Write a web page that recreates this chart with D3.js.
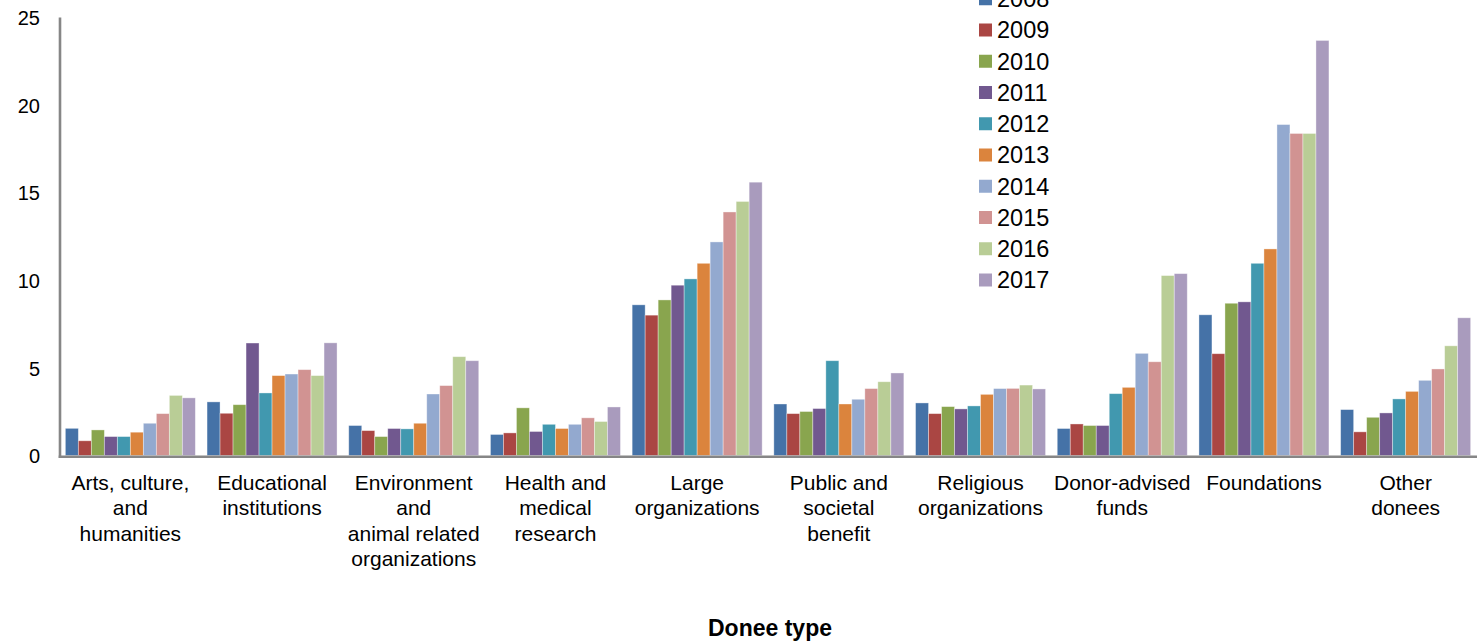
<!DOCTYPE html>
<html>
<head>
<meta charset="utf-8">
<script src="https://cdn.jsdelivr.net/npm/d3@7"></script>
<style>
  body { margin: 0; background: #fff; }
  text { font-family: "Liberation Sans", Arial, sans-serif; fill: #000; }
</style>
</head>
<body>
<div id="chart"></div>
<script>

// Data
////////////////////////////////////////
var categories = [
    ["Arts, culture,", "and", "humanities"],
    ["Educational", "institutions"],
    ["Environment", "and", "animal related", "organizations"],
    ["Health and", "medical", "research"],
    ["Large", "organizations"],
    ["Public and", "societal", "benefit"],
    ["Religious", "organizations"],
    ["Donor-advised", "funds"],
    ["Foundations"],
    ["Other", "donees"]
];

var years = ["2008", "2009", "2010", "2011", "2012", "2013", "2014", "2015", "2016", "2017"];

var colors = ["#4572A7", "#AA4643", "#89A54E", "#71588F", "#4198AF",
              "#DB843D", "#93A9CF", "#D19392", "#B9CD96", "#A99BBD"];

// one array per year, in the order of the categories
var v2008 = [1.55, 3.06, 1.71, 1.20, 8.60, 2.94, 3.00, 1.54, 8.03, 2.62];
var v2009 = [0.84, 2.41, 1.42, 1.29, 8.01, 2.39, 2.39, 1.80, 5.81, 1.35];
var v2010 = [1.46, 2.90, 1.08, 2.72, 8.88, 2.51, 2.79, 1.71, 8.69, 2.18];
var v2011 = [1.08, 6.42, 1.54, 1.37, 9.72, 2.68, 2.66, 1.71, 8.77, 2.43];
var v2012 = [1.08, 3.57, 1.52, 1.78, 10.08, 5.41, 2.83, 3.53, 10.97, 3.23];
var v2013 = [1.33, 4.56, 1.84, 1.54, 10.97, 2.94, 3.49, 3.89, 11.79, 3.66];
var v2014 = [1.84, 4.65, 3.51, 1.78, 12.19, 3.21, 3.82, 5.83, 18.89, 4.29];
var v2015 = [2.39, 4.90, 3.99, 2.15, 13.90, 3.82, 3.83, 5.35, 18.38, 4.94];
var v2016 = [3.43, 4.56, 5.64, 1.94, 14.50, 4.21, 4.02, 10.27, 18.38, 6.26];
var v2017 = [3.29, 6.43, 5.41, 2.77, 15.60, 4.71, 3.80, 10.38, 23.69, 7.86];

var yTicks = [0, 5, 10, 15, 20, 25];
var xTitle = "Donee type";

// Build a flat table for the bars
var series = [v2008, v2009, v2010, v2011, v2012, v2013, v2014, v2015, v2016, v2017];
var table = [];
categories.forEach(function(c, ci) {
    years.forEach(function(y, yi) {
        table.push({ cat: ci, year: y, value: series[yi][ci] });
    });
});

// SVG area
////////////////////////////////////////
var svgWidth = 1484;
var svgHeight = 641;

var svg = d3.select("#chart")
    .append("svg")
    .attr("width", svgWidth)
    .attr("height", svgHeight);

// Scales
var x0 = d3.scaleBand()
    .domain(d3.range(categories.length))
    .range([59.5, 1476.5])
    .padding(0);

var x1 = d3.scaleBand()
    .domain(years)
    .range([0, x0.bandwidth()])
    .paddingInner(0)
    .paddingOuter(0.45);

var yScale = d3.scaleLinear()
    .domain([0, 25])
    .range([455.5, 17.5]);

var colorScale = d3.scaleOrdinal()
    .domain(years)
    .range(colors);

// Bars
svg.append("g")
    .selectAll("rect")
    .data(table)
    .enter()
    .append("rect")
    .attr("x", d => x0(d.cat) + x1(d.year))
    .attr("y", d => yScale(d.value))
    .attr("width", x1.bandwidth())
    .attr("height", d => yScale(0) - yScale(d.value))
    .attr("fill", d => colorScale(d.year))
    .attr("stroke", "#fff")
    .attr("stroke-opacity", 0.45)
    .attr("stroke-width", 0.8);

// Y axis: line plus labels, no tick marks
var leftAxis = d3.axisLeft(yScale).tickValues(yTicks).tickSize(0).tickPadding(20);
var yAxisG = svg.append("g")
    .attr("transform", "translate(60,0)")
    .call(leftAxis);
yAxisG.select(".domain").remove();
yAxisG.selectAll("text")
    .attr("font-size", 20)
    .attr("font-family", null)
    .attr("dy", "0.36em");

svg.append("line")
    .attr("x1", 60).attr("x2", 60)
    .attr("y1", yScale(25)).attr("y2", 458)
    .attr("stroke", "#868686")
    .attr("stroke-width", 2.6);

// X axis line
svg.append("line")
    .attr("x1", 58.7).attr("x2", 1477)
    .attr("y1", 456.8).attr("y2", 456.8)
    .attr("stroke", "#868686")
    .attr("stroke-width", 2.6);

// Category labels (multi line)
var catLabels = svg.append("g")
    .selectAll("text")
    .data(categories)
    .enter()
    .append("text")
    .attr("text-anchor", "middle")
    .attr("font-size", 21)
    .attr("transform", (d, i) => `translate(${x0(i) + x0.bandwidth() / 2}, 489.5)`);

catLabels.selectAll("tspan")
    .data(d => d)
    .enter()
    .append("tspan")
    .attr("x", 0)
    .attr("y", (d, i) => i * 25.5)
    .text(d => d);

// X axis title
svg.append("text")
    .attr("x", 770)
    .attr("y", 636)
    .attr("text-anchor", "middle")
    .attr("font-size", 23)
    .attr("font-weight", "bold")
    .text(xTitle);

// Legend
var legend = svg.append("g")
    .selectAll("g")
    .data(years)
    .enter()
    .append("g")
    .attr("transform", (d, i) => `translate(979, ${-1.25 + i * 31.25})`);

legend.append("rect")
    .attr("x", 0)
    .attr("y", -6.5)
    .attr("width", 13)
    .attr("height", 13)
    .attr("fill", d => colorScale(d));

legend.append("text")
    .attr("x", 18)
    .attr("dy", "0.36em")
    .attr("font-size", 23.5)
    .text(d => d);

</script>
</body>
</html>
